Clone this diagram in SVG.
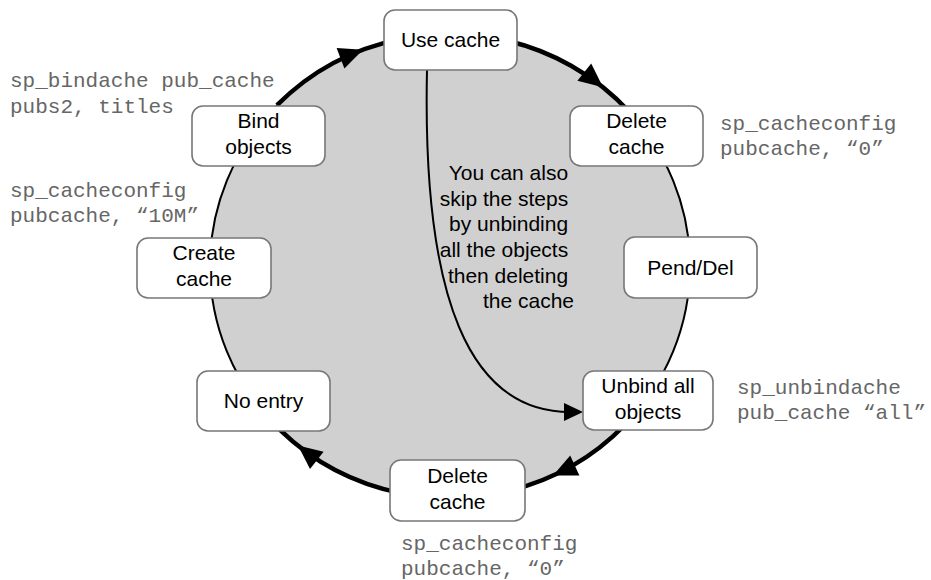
<svg xmlns="http://www.w3.org/2000/svg" width="931" height="580" viewBox="0 0 931 580">
  <style>
    .node rect { fill: #ffffff; stroke: #777777; stroke-width: 1.6; }
    .node text, .note { font-family: "Liberation Sans", Arial, sans-serif; font-size: 21px; fill: #000000; }
    .node text { text-anchor: middle; }
    .cmd { font-family: "Liberation Mono", "Courier New", monospace; font-size: 21px; fill: #666666; }
    .thick { fill: none; stroke: #000000; stroke-width: 4.5; }
    .thin { fill: none; stroke: #000000; stroke-width: 2; }
    .head { fill: #000000; stroke: none; }
  </style>

  <!-- lifecycle ring -->
  <ellipse cx="450" cy="266" rx="240" ry="232" fill="#d0d0d0" stroke="#000000" stroke-width="2"/>

  <g id="connectors">
    <!-- Bind objects to Use cache -->
    <path class="thick" d="M277,105.2 A240,232 0 0 1 400,39.1"/>
    <polygon class="head" points="363,49.8 344.4,68.6 336.6,47.95"/>
    <!-- Use cache to Delete cache -->
    <path class="thick" d="M500,39.1 A240,232 0 0 1 630,112.6"/>
    <polygon class="head" points="603,87.2 577.4,80.8 591.2,63.6"/>
    <!-- Unbind all objects to Delete cache -->
    <path class="thick" d="M625,424.8 A240,232 0 0 1 510,490.6"/>
    <polygon class="head" points="553,475.6 570.2,455.6 579.4,475.6"/>
    <!-- Delete cache to No entry -->
    <path class="thick" d="M400,492.9 A240,232 0 0 1 280,429.8"/>
    <polygon class="head" points="298,445.5 323.6,451.8 310,469"/>
    <!-- shortcut from Use cache to Unbind all objects -->
    <path class="thin" d="M427,70 C422,300 470,412 570,412"/>
    <polygon class="head" points="583,412 564,403 564,421"/>
  </g>

  <g id="use-cache" class="node">
    <rect x="384" y="10" width="133" height="60" rx="11"/>
    <text x="450.5" y="47">Use cache</text>
  </g>
  <g id="delete-cache-top" class="node">
    <rect x="570" y="106" width="133" height="60" rx="11"/>
    <text x="636.5" y="128">Delete</text>
    <text x="636.5" y="154">cache</text>
  </g>
  <g id="pend-del" class="node">
    <rect x="624" y="237" width="133" height="61" rx="11"/>
    <text x="690.5" y="275">Pend/Del</text>
  </g>
  <g id="unbind-all" class="node">
    <rect x="583" y="371" width="130" height="59" rx="11"/>
    <text x="648" y="393">Unbind all</text>
    <text x="648" y="419">objects</text>
  </g>
  <g id="delete-cache-bottom" class="node">
    <rect x="390" y="460" width="135" height="61" rx="11"/>
    <text x="457.5" y="483">Delete</text>
    <text x="457.5" y="509">cache</text>
  </g>
  <g id="no-entry" class="node">
    <rect x="197" y="371" width="133" height="60" rx="11"/>
    <text x="263.5" y="408">No entry</text>
  </g>
  <g id="create-cache" class="node">
    <rect x="137" y="238" width="134" height="60" rx="11"/>
    <text x="204" y="260">Create</text>
    <text x="204" y="286">cache</text>
  </g>
  <g id="bind-objects" class="node">
    <rect x="192" y="106" width="133" height="60" rx="11"/>
    <text x="258.5" y="128">Bind</text>
    <text x="258.5" y="154">objects</text>
  </g>

  <!-- shortcut note -->
  <text class="note" text-anchor="end">
    <tspan x="574" y="180">You can also</tspan>
    <tspan x="574" y="205.7">skip the steps</tspan>
    <tspan x="574" y="231.3">by unbinding</tspan>
    <tspan x="574" y="257">all the objects</tspan>
    <tspan x="574" y="282.7">then deleting</tspan>
    <tspan x="574" y="308.3">the cache</tspan>
  </text>

  <!-- stored procedure calls -->
  <text class="cmd"><tspan x="10" y="87">sp_bindache pub_cache</tspan><tspan x="10" y="113">pubs2, titles</tspan></text>
  <text class="cmd"><tspan x="10" y="197">sp_cacheconfig</tspan><tspan x="10" y="222">pubcache, “10M”</tspan></text>
  <text class="cmd"><tspan x="720" y="130">sp_cacheconfig</tspan><tspan x="720" y="155">pubcache, “0”</tspan></text>
  <text class="cmd"><tspan x="737" y="394">sp_unbindache</tspan><tspan x="737" y="419">pub_cache “all”</tspan></text>
  <text class="cmd"><tspan x="401" y="550">sp_cacheconfig</tspan><tspan x="401" y="575">pubcache, “0”</tspan></text>
</svg>
